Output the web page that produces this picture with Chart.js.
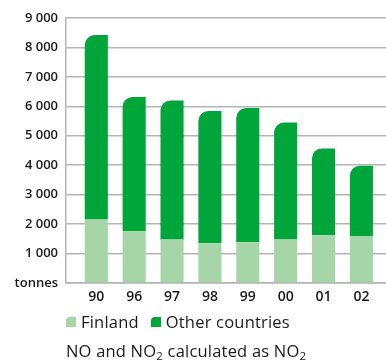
<!DOCTYPE html>
<html>
<head>
<meta charset="utf-8">
<script src="https://cdn.jsdelivr.net/npm/chart.js@4/dist/chart.umd.min.js"></script>
<style>
  html, body { margin: 0; padding: 0; background: #fff; }
  #wrap { position: relative; width: 386px; height: 362px; font-family: "Open Sans", sans-serif; color: #1a1a1a; }
  #chart { position: absolute; left: 0; top: 0; }
  #legend { position: absolute; left: 66px; top: 312px; display: flex; gap: 12px; font-size: 16.5px; line-height: 20px; letter-spacing: 0.2px; }
  #legend .item { display: flex; align-items: center; }
  #legend .box { width: 10px; height: 10px; border-top-left-radius: 4px; margin-right: 5px; }
  #note { position: absolute; left: 66px; top: 340px; font-size: 16.5px; line-height: 22px; letter-spacing: 0.2px; white-space: nowrap; }
  #note sub { font-size: 70%; vertical-align: -3px; line-height: 0; }
</style>
</head>
<body>
<div id="wrap">
  <canvas id="chart" width="386" height="362"></canvas>
  <div id="legend"></div>
  <div id="note">NO and NO<sub>2</sub> calculated as NO<sub>2</sub></div>
</div>
<script>
// Years (two-digit labels along the x axis)
const years = ['90', '96', '97', '98', '99', '00', '01', '02'];
// Emissions in tonnes
const finland = [2160, 1755, 1480, 1350, 1380, 1480, 1620, 1600];
const otherCountries = [6260, 4565, 4720, 4490, 4560, 3970, 2950, 2380];
const seriesNames = ['Finland', 'Other countries'];
const seriesColors = ['#a6d5a7', '#00a63a'];
// Value axis
const yMax = 9000;
const yStep = 1000;
const zeroLabel = 'tonnes';

const toPoints = arr => arr.map((v, i) => ({ x: i, y: v }));
const fmt = v => v === 0 ? zeroLabel : String(v).replace(/\B(?=(\d{3})+(?!\d))/g, ' ');
const gridColor = '#b4b4b4';

const chart = new Chart(document.getElementById('chart'), {
  type: 'bar',
  data: {
    datasets: [
      {
        label: seriesNames[0],
        data: toPoints(finland),
        backgroundColor: seriesColors[0],
        categoryPercentage: 1,
        barPercentage: 0.61,
        borderWidth: 0
      },
      {
        label: seriesNames[1],
        data: toPoints(otherCountries),
        backgroundColor: seriesColors[1],
        categoryPercentage: 1,
        barPercentage: 0.61,
        borderWidth: 0,
        borderSkipped: false,
        borderRadius: { topLeft: 10, topRight: 0, bottomLeft: 0, bottomRight: 0 }
      }
    ]
  },
  options: {
    responsive: false,
    animation: false,
    layout: { padding: { top: 18, right: 0, bottom: 59, left: 0 } },
    plugins: { legend: { display: false }, tooltip: { enabled: false } },
    scales: {
      x: {
        type: 'linear',
        stacked: true,
        offset: false,
        min: -0.8,
        max: 7.65,
        afterFit: s => { s.height = 20; },
        grid: { display: false, drawTicks: false },
        border: { display: true, color: gridColor, width: 1.5 },
        ticks: {
          stepSize: 1,
          includeBounds: false,
          autoSkip: false,
          maxRotation: 0,
          padding: 6,
          color: '#1a1a1a',
          font: { family: 'Open Sans', size: 14, weight: '600' },
          callback: v => (Number.isInteger(v) && years[v] !== undefined) ? years[v] : ''
        }
      },
      y: {
        stacked: true,
        min: 0,
        max: yMax,
        afterFit: s => { s.width = 66; },
        grid: { color: gridColor, lineWidth: 1.5, drawTicks: false },
        border: { display: true, color: gridColor, width: 1.5 },
        ticks: {
          stepSize: yStep,
          padding: 8,
          color: '#1a1a1a',
          font: { family: 'Open Sans', size: 13, weight: '600' },
          callback: v => fmt(v)
        }
      }
    }
  }
});

// Legend built from the chart's datasets
const legend = document.getElementById('legend');
chart.data.datasets.forEach(ds => {
  const item = document.createElement('div');
  item.className = 'item';
  const box = document.createElement('span');
  box.className = 'box';
  box.style.background = ds.backgroundColor;
  const txt = document.createElement('span');
  txt.textContent = ds.label;
  item.appendChild(box);
  item.appendChild(txt);
  legend.appendChild(item);
});
</script>
</body>
</html>
